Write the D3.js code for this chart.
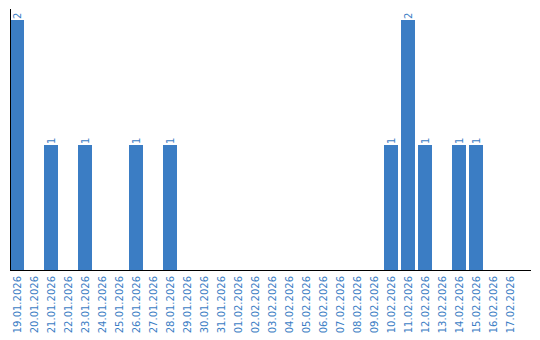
<!DOCTYPE html>
<html>
<head>
<meta charset="utf-8">
<script src="https://cdn.jsdelivr.net/npm/d3@7"></script>
<style>
  body { margin: 0; background: #fff; }
  text { font-family: "DejaVu Sans", Verdana, sans-serif; }
</style>
</head>
<body>
<div id="plot"></div>
<script>
// days shown on the x axis
var days = ["19.01.2026","20.01.2026","21.01.2026","22.01.2026","23.01.2026","24.01.2026",
  "25.01.2026","26.01.2026","27.01.2026","28.01.2026","29.01.2026","30.01.2026",
  "31.01.2026","01.02.2026","02.02.2026","03.02.2026","04.02.2026","05.02.2026",
  "06.02.2026","07.02.2026","08.02.2026","09.02.2026","10.02.2026","11.02.2026",
  "12.02.2026","13.02.2026","14.02.2026","15.02.2026","16.02.2026","17.02.2026"];
var counts = [2,0,1,0,1,0,0,1,0,1,0,0,0,0,0,0,0,0,0,0,0,0,1,2,1,0,1,1,0,0];

var blue = "#3b7dc4";
var width = 540, height = 340;

var svg = d3.select("#plot")
  .append("svg")
    .attr("width", width)
    .attr("height", height);

// one 17px slot per day, bars 14px wide
var x = d3.scaleBand()
    .domain(days)
    .range([10, 10 + days.length * 17])
    .padding(0);
var barW = 14;

var y = d3.scaleLinear()
    .domain([0, 2])
    .range([270, 20]);

// bars
svg.selectAll("rect.bar")
  .data(days)
  .enter()
  .filter(function(d, i) { return counts[i] > 0; })
  .append("rect")
    .attr("class", "bar")
    .attr("x", function(d) { return x(d); })
    .attr("y", function(d) { return y(counts[days.indexOf(d)]); })
    .attr("width", barW)
    .attr("height", function(d) { return y(0) - y(counts[days.indexOf(d)]); })
    .attr("fill", blue);

// y axis line
svg.append("line")
    .attr("x1", 10.5).attr("x2", 10.5)
    .attr("y1", 9).attr("y2", 270)
    .attr("stroke", "#000");

// x axis line
svg.append("line")
    .attr("x1", 10).attr("x2", 531)
    .attr("y1", 270.5).attr("y2", 270.5)
    .attr("stroke", "#000");

// value labels above bars
svg.selectAll("text.val")
  .data(days.filter(function(d, i) { return counts[i] > 0; }))
  .enter()
  .append("text")
    .attr("class", "val")
    .attr("transform", function(d) {
        return "translate(" + (x(d) + barW / 2 + 4) + "," + (y(counts[days.indexOf(d)]) - 1) + ") rotate(-90)";
    })
    .attr("font-size", "10px")
    .attr("fill", blue)
    .text(function(d) { return counts[days.indexOf(d)]; });

// day labels
svg.selectAll("text.day")
  .data(days)
  .enter()
  .append("text")
    .attr("class", "day")
    .attr("transform", function(d) {
        return "translate(" + (x(d) + barW / 2 + 4) + ",276) rotate(-90)";
    })
    .attr("text-anchor", "end")
    .attr("font-size", "10px")
    .attr("fill", blue)
    .text(function(d) { return d; });
</script>
</body>
</html>
